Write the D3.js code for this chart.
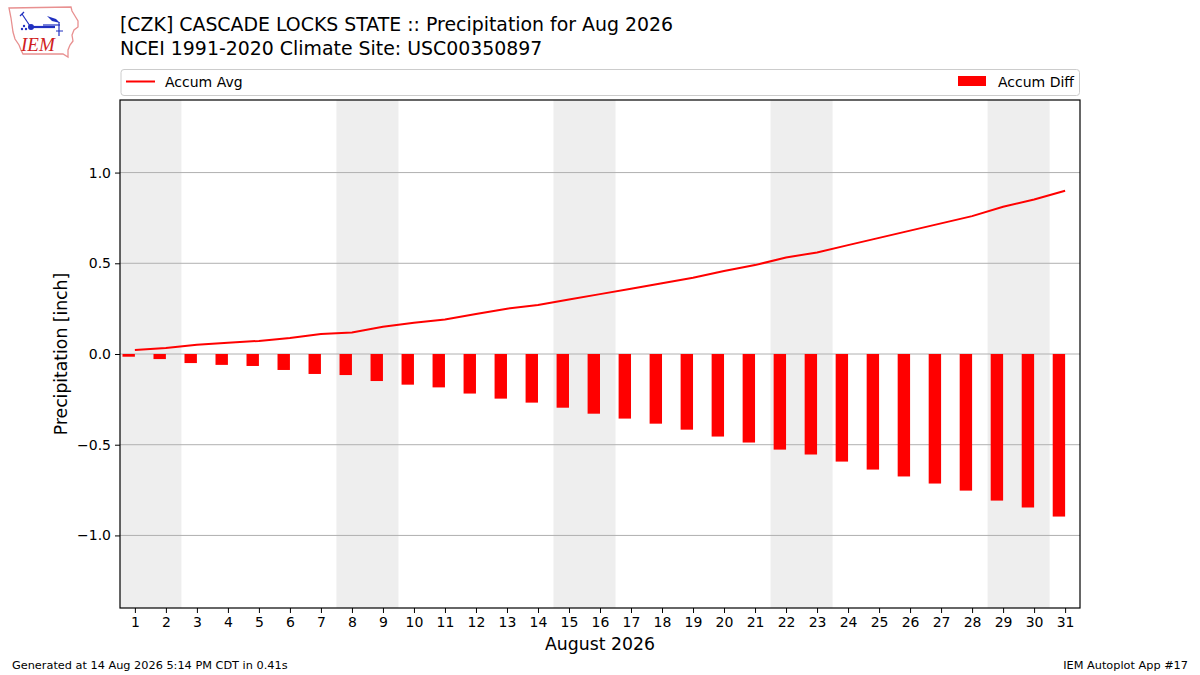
<!DOCTYPE html>
<html><head><meta charset="utf-8">
<script src="https://cdn.jsdelivr.net/npm/d3@7"></script>
<style>body{margin:0;background:#fff}svg{display:block}</style>
</head><body>
<svg id="c" width="1200" height="675" font-family="DejaVu Sans, sans-serif"></svg>
<script>
const days = d3.range(1, 32);
const accumAvg = [0.022,0.033,0.051,0.062,0.072,0.088,0.11,0.119,0.15,0.172,0.19,0.22,0.25,0.27,0.30,0.33,0.36,0.39,0.42,0.457,0.49,0.532,0.56,0.60,0.64,0.68,0.72,0.76,0.812,0.852,0.90];
const accumDiff = [-0.015,-0.028,-0.05,-0.06,-0.066,-0.088,-0.11,-0.116,-0.149,-0.169,-0.184,-0.218,-0.246,-0.268,-0.296,-0.329,-0.356,-0.384,-0.417,-0.455,-0.488,-0.527,-0.554,-0.593,-0.637,-0.675,-0.714,-0.753,-0.808,-0.846,-0.896];
const weekendStarts = [1, 8, 15, 22, 29];
const yTicks = [-1.0, -0.5, 0.0, 0.5, 1.0];
const titleLines = ["[CZK] CASCADE LOCKS STATE :: Precipitation for Aug 2026", "NCEI 1991-2020 Climate Site: USC00350897"];

const svg = d3.select("#c");
const L = 120, R = 1080, T = 100, B = 608;
const x = d3.scaleLinear().domain([0.52, 31.48]).range([L, R]);
const y = d3.scaleLinear().domain([-1.4, 1.4]).range([B, T]);

svg.append("defs").append("clipPath").attr("id","clip").append("rect")
  .attr("x", L).attr("y", T).attr("width", R-L).attr("height", B-T);

const g = svg.append("g").attr("clip-path","url(#clip)");
g.selectAll("rect.wk").data(weekendStarts).join("rect").attr("class","wk")
  .attr("x", d => x(d-0.5)).attr("width", d => x(d+1.5)-x(d-0.5))
  .attr("y", T).attr("height", B-T).attr("fill","#eeeeee");
g.selectAll("line.grid").data(yTicks).join("line")
  .attr("x1", L).attr("x2", R).attr("y1", d=>y(d)).attr("y2", d=>y(d))
  .attr("stroke","#b0b0b0").attr("stroke-width",1);
g.selectAll("rect.bar").data(days).join("rect")
  .attr("x", d => x(d-0.4)).attr("width", d => x(d)-x(d-0.4))
  .attr("y", (d,i) => y(Math.max(0, accumDiff[i])))
  .attr("height", (d,i) => Math.abs(y(accumDiff[i]) - y(0)))
  .attr("fill","#ff0000");
g.append("path").datum(days)
  .attr("d", d3.line().x(d=>x(d)).y((d,i)=>y(accumAvg[i])))
  .attr("fill","none").attr("stroke","#ff0000").attr("stroke-width",2);

svg.append("rect").attr("x",L).attr("y",T).attr("width",R-L).attr("height",B-T)
  .attr("fill","none").attr("stroke","#000").attr("stroke-width",1.2);

const xAxis = d3.axisBottom(x).tickValues(days).tickSize(5).tickPadding(4).tickFormat(d3.format("d"));
const xa = svg.append("g").attr("transform",`translate(0,${B})`).call(xAxis);
const yAxis = d3.axisLeft(y).tickValues(yTicks).tickSize(5).tickPadding(4).tickFormat(d => d3.format(".1f")(d).replace("-","\u2212"));
const ya = svg.append("g").attr("transform",`translate(${L},0)`).call(yAxis);
[xa, ya].forEach(a => {
  a.attr("font-family","DejaVu Sans, sans-serif").attr("font-size",14);
  a.select(".domain").remove();
  a.selectAll(".tick line").attr("stroke","#000").attr("stroke-width",1);
  a.selectAll(".tick text").attr("fill","#000");
});

svg.append("text").attr("x",(L+R)/2).attr("y",650).attr("text-anchor","middle")
  .attr("font-size",17.3).text("August 2026");
svg.append("text").attr("transform",`translate(67,${(T+B)/2}) rotate(-90)`).attr("text-anchor","middle")
  .attr("font-size",17.2).text("Precipitation [inch]");

svg.selectAll("text.title").data(titleLines).join("text")
  .attr("x",120).attr("y",(d,i)=>31+i*24).attr("font-size",18.9).text(d=>d);

const lg = svg.append("g");
lg.append("rect").attr("x",121).attr("y",69.5).attr("width",958.5).attr("height",26).attr("rx",3)
  .attr("fill","#fff").attr("stroke","#cccccc");
lg.append("line").attr("x1",126).attr("x2",155).attr("y1",81.5).attr("y2",81.5).attr("stroke","#ff0000").attr("stroke-width",2);
lg.append("text").attr("x",165).attr("y",86.5).attr("font-size",14).text("Accum Avg");
lg.append("rect").attr("x",958).attr("y",76).attr("width",28).attr("height",10).attr("fill","#ff0000");
lg.append("text").attr("x",1074).attr("y",86.5).attr("text-anchor","end").attr("font-size",14).text("Accum Diff");

svg.append("text").attr("x",12).attr("y",669).attr("font-size",11.3).text("Generated at 14 Aug 2026 5:14 PM CDT in 0.41s");
svg.append("text").attr("x",1188).attr("y",669).attr("text-anchor","end").attr("font-size",11.3).text("IEM Autoplot App #17");

// logo
const lo = svg.append("g");
lo.append("path").attr("d","M9,8 L71,7 L72,11 L75,16 L78,21 L78,27 L74,30 L72,35 L73,41 L70,45 L68,50 L68,57 L63,54 L23,54 L21,50 L19,45 L15,39 L13,32 L12,25 L11,18 L10,13 Z")
  .attr("fill","none").attr("stroke","#e89090").attr("stroke-width",1.3);
lo.append("line").attr("x1",30).attr("x2",55).attr("y1",27).attr("y2",27).attr("stroke","#2030c0").attr("stroke-width",2.2);
lo.append("circle").attr("cx",31).attr("cy",27).attr("r",3).attr("fill","#2030c0");
lo.append("line").attr("x1",22).attr("x2",30).attr("y1",14).attr("y2",26).attr("stroke","#2030c0").attr("stroke-width",1.2);
lo.append("line").attr("x1",20).attr("x2",24).attr("y1",16).attr("y2",12).attr("stroke","#2030c0").attr("stroke-width",1.2);
lo.append("path").attr("d","M47,16 L56,19 L60,23 L52,21 Z").attr("fill","#2030c0");
lo.append("line").attr("x1",43).attr("x2",60).attr("y1",25).attr("y2",25).attr("stroke","#2030c0").attr("stroke-width",1.2);
lo.append("line").attr("x1",59).attr("x2",59).attr("y1",22).attr("y2",36).attr("stroke","#2030c0").attr("stroke-width",1.2);
lo.append("line").attr("x1",56).attr("x2",63).attr("y1",31).attr("y2",31).attr("stroke","#2030c0").attr("stroke-width",1);
lo.append("circle").attr("cx",24).attr("cy",26).attr("r",1.2).attr("fill","#2030c0");
lo.append("circle").attr("cx",22).attr("cy",29).attr("r",1.2).attr("fill","#2030c0");
lo.append("circle").attr("cx",26).attr("cy",29).attr("r",1.2).attr("fill","#2030c0");
lo.append("text").attr("x",21).attr("y",51).attr("font-family","Liberation Serif, serif").attr("font-style","italic")
  .attr("font-size",19).attr("fill","#d02020").text("IEM");
</script>
</body></html>
